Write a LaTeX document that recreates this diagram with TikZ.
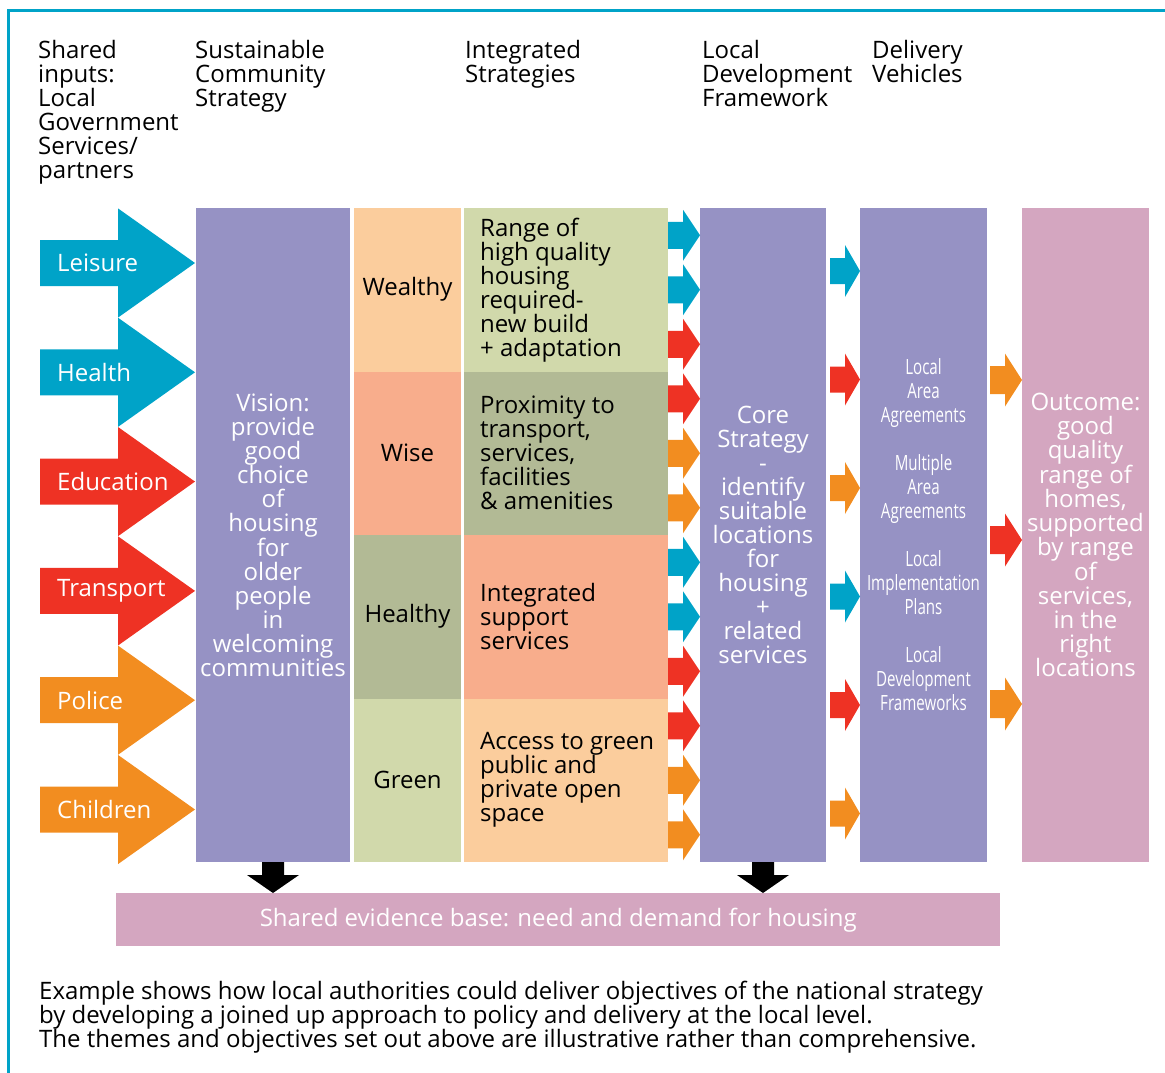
\documentclass[tikz,border=0pt]{standalone}
\usepackage{fontspec}
\setmainfont{Open Sans}
\newfontfamily\narrowfont[FakeStretch=0.72]{Open Sans}
\usepackage{xcolor}
\usepackage{tikz}
\usetikzlibrary{positioning}
\definecolor{capblue}{HTML}{00A3C8}
\definecolor{capred}{HTML}{EE3224}
\definecolor{caporange}{HTML}{F28D20}
\definecolor{vispurple}{HTML}{9692C4}
\definecolor{outpink}{HTML}{D4A6C0}
\definecolor{peach}{HTML}{FBCD9D}
\definecolor{salmon}{HTML}{F8AD8C}
\definecolor{olive}{HTML}{B2BA95}
\definecolor{lgreen}{HTML}{D1D9AB}
\newcommand{\bigsize}{\fontsize{24}{24}\selectfont}
\newcommand{\blockarrow}[7]{%
  \fill[#7] (#1,#2-#5) -- (#3,#2-#5) -- (#3,#2-#6) -- (#4,#2)
    -- (#3,#2+#6) -- (#3,#2+#5) -- (#1,#2+#5) -- cycle;}
\tikzstyle{heading} = [anchor=north west, align=left, inner sep=0pt, font=\bigsize]
\tikzstyle{column} = [anchor=north west, inner sep=0pt, outer sep=0pt,
    minimum height=654pt, align=center, text=white, font=\bigsize]
\tikzstyle{theme} = [anchor=north west, inner sep=0pt, outer sep=0pt,
    minimum width=107pt, minimum height=163.5pt, font=\bigsize]
\tikzstyle{strat} = [anchor=north west, inner sep=0pt, outer sep=0pt,
    minimum width=204pt, minimum height=163.5pt]
\tikzstyle{strattext} = [align=left, inner sep=0pt, font=\bigsize]
\tikzstyle{intext} = [anchor=west, inner sep=0pt, text=white, font=\bigsize]

\begin{document}
\begin{tikzpicture}[x=1pt, y=-1pt]
\useasboundingbox (0,0) rectangle (1165,1073);
\draw[capblue, line width=2.5pt] (8.5,1073) -- (8.5,10.5) -- (1165,10.5);

\node[heading] (inputs) at (38,40) {Shared\\inputs:\\Local\\Government\\Services/\\partners};
\node[heading] (scs) at (195,40) {Sustainable\\Community\\Strategy};
\node[heading] (integ) at (465,40) {Integrated\\Strategies};
\node[heading] (ldf) at (702,40) {Local\\Development\\Framework};
\node[heading] (dv) at (872,40) {Delivery\\Vehicles};

\node[column, fill=vispurple, minimum width=154pt] (vision) at (196,208)
    {Vision:\\provide\\good\\choice\\of\\housing\\for\\older\\people\\in\\welcoming\\communities};

\node[theme, fill=peach] (wealthy) at (354,208) {Wealthy};
\node[theme, fill=salmon, below=0pt of wealthy] (wise) {Wise};
\node[theme, fill=olive, below=0pt of wise] (healthy) {Healthy};
\node[theme, fill=lgreen, below=0pt of healthy] (green) {Green};

\node[strat, fill=lgreen] (range) at (464,208) {};
\node[strat, fill=olive, below=0pt of range] (proximity) {};
\node[strat, fill=salmon, below=0pt of proximity] (support) {};
\node[strat, fill=peach, below=0pt of support] (access) {};
\node[strattext, right=16pt of range.west] (rangetxt)
    {Range of\\high quality\\housing\\required-\\new build\\+ adaptation};
\node[strattext, right=16pt of proximity.west] (proximitytxt)
    {Proximity to\\transport,\\services,\\facilities\\\& amenities};
\node[strattext, right=16pt of support.west] (supporttxt)
    {Integrated\\support\\services};
\node[strattext, right=16pt of access.west] (accesstxt)
    {Access to green\\public and\\private open\\space};

\node[column, fill=vispurple, minimum width=126pt] (core) at (700,208)
    {Core\\Strategy\\-\\identify\\suitable\\locations\\for\\housing\\+\\related\\services};
\node[column, fill=vispurple, minimum width=127pt, font=\narrowfont\fontsize{21}{24}\selectfont] (delivery) at (860,208)
    {Local\\Area\\Agreements\\[24pt]Multiple\\Area\\Agreements\\[24pt]Local\\Implementation\\Plans\\[24pt]Local\\Development\\Frameworks};
\node[column, fill=outpink, minimum width=127pt] (outcome) at (1022,208)
    {Outcome:\\good\\quality\\range of\\homes,\\supported\\by range\\of\\services,\\in the\\right\\locations};

\node[anchor=north west, inner sep=0pt, minimum width=884pt, minimum height=53pt,
    fill=outpink, text=white, font=\bigsize] (evidence) at (116,893)
    {Shared evidence base: need and demand for housing};

\foreach \name/\col [count=\i from 0] in {Leisure/capblue, Health/capblue, Education/capred,
    Transport/capred, Police/caporange, Children/caporange} {
  \pgfmathsetmacro{\yc}{263+109.3*\i}
  \blockarrow{40}{\yc}{118}{195}{23}{54.6}{\col}
  \node[intext] (in\i) at (57,\yc) {\name};
}

\foreach \col [count=\i from 0] in {capblue, capblue, capred, capred, caporange, caporange,
    capblue, capblue, capred, capred, caporange, caporange} {
  \pgfmathsetmacro{\yc}{208+54.5*(\i+0.5)}
  \blockarrow{668}{\yc}{683}{700}{13.5}{25.5}{\col}
}

\foreach \col [count=\i from 0] in {capblue, capred, caporange, capblue, capred, caporange} {
  \pgfmathsetmacro{\yc}{271+108.5*\i}
  \blockarrow{830}{\yc}{845}{860}{13}{26}{\col}
}

\foreach \col/\yc in {caporange/380, capred/540, caporange/704} {
  \blockarrow{990}{\yc}{1005}{1022}{14}{26.5}{\col}
}

\foreach \src in {vision, core} {
  \fill[black, shift={(\src.south)}] (-11,0) -- (11,0) -- (11,13) -- (26,13)
      -- (0,31) -- (-26,13) -- (-11,13) -- cycle;
}

\node[anchor=north west, align=left, inner sep=0pt, font=\bigsize] (note) at (39,981)
    {Example shows how local authorities could deliver objectives of the national strategy\\
     by developing a joined up approach to policy and delivery at the local level.\\
     The themes and objectives set out above are illustrative rather than comprehensive.};
\end{tikzpicture}
\end{document}
